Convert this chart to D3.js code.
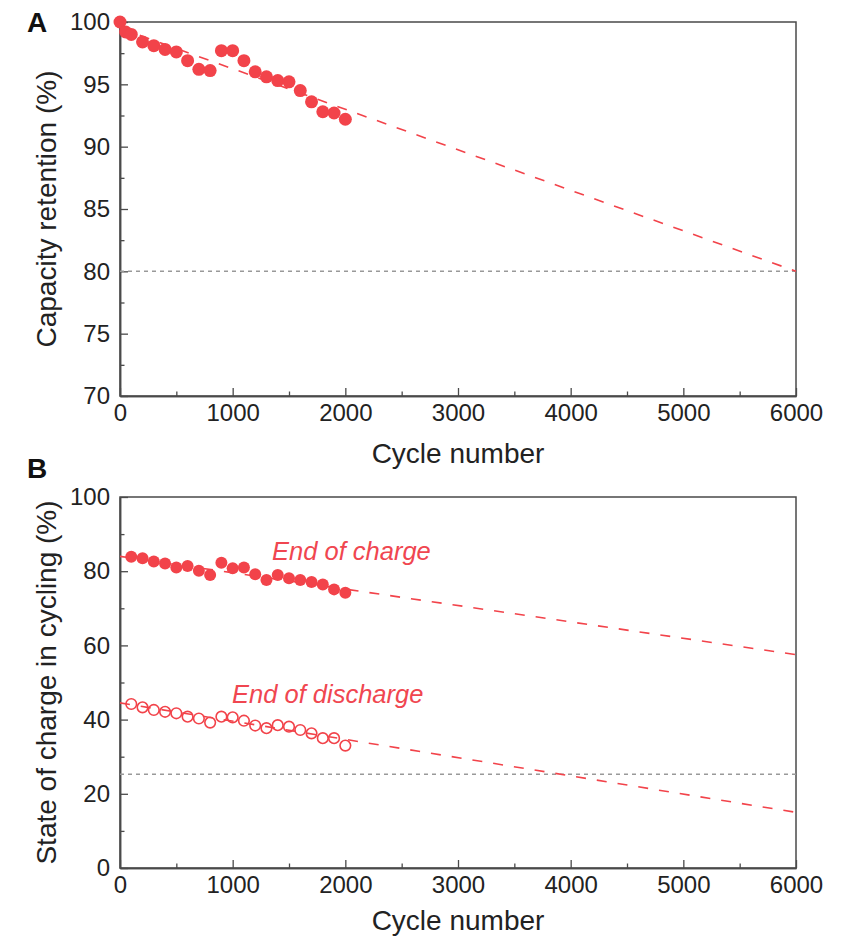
<!DOCTYPE html>
<html>
<head>
<meta charset="utf-8">
<script src="https://cdn.jsdelivr.net/npm/d3@7"></script>
<style>
  html, body { margin: 0; padding: 0; background: #fff; }
  svg text { font-family: "Liberation Sans", Arial, Helvetica, sans-serif; }
</style>
</head>
<body>
<svg id="chart" width="848" height="943"></svg>
<script>
// ---------- data ----------
const cyclesA = [0, 50, 100, 200, 300, 400, 500, 600, 700, 800, 900, 1000, 1100, 1200, 1300, 1400, 1500, 1600, 1700, 1800, 1900, 2000];
const retention = [100, 99.2, 99.0, 98.4, 98.1, 97.8, 97.6, 96.9, 96.2, 96.1, 97.7, 97.7, 96.9, 96.0, 95.6, 95.3, 95.2, 94.5, 93.6, 92.8, 92.7, 92.2];
const fitA = [[0, 99.5], [6000, 80]];
const thresholdA = 80;

const cyclesB = [100, 200, 300, 400, 500, 600, 700, 800, 900, 1000, 1100, 1200, 1300, 1400, 1500, 1600, 1700, 1800, 1900, 2000];
const chargeEnd = [83.9, 83.5, 82.6, 82.1, 81.0, 81.4, 80.1, 79.0, 82.3, 80.8, 81.0, 79.2, 77.6, 79.0, 78.1, 77.6, 77.1, 76.4, 75.1, 74.2];
const dischargeEnd = [44.2, 43.3, 42.6, 42.1, 41.7, 40.8, 40.3, 39.2, 40.8, 40.6, 39.7, 38.4, 37.7, 38.5, 38.1, 37.2, 36.3, 35.0, 35.0, 33.0];
const fitCharge = [[0, 84], [6000, 57.5]];
const fitDischarge = [[0, 44.5], [6000, 15]];
const thresholdB = 25.3;

const xTicks = [0, 1000, 2000, 3000, 4000, 5000, 6000];
const xMinor = [500, 1500, 2500, 3500, 4500, 5500];
const yTicksA = [70, 75, 80, 85, 90, 95, 100];
const yMinorA = [72.5, 77.5, 82.5, 87.5, 92.5, 97.5];
const yTicksB = [0, 20, 40, 60, 80, 100];
const yMinorB = [10, 30, 50, 70, 90];

// ---------- styles ----------
const RED = "#f2434a";
const AXIS = "#4a4a4a";
const svg = d3.select("#chart");
const fmt = d3.format("d");

const L = 120, R = 796;
const x = d3.scaleLinear().domain([0, 6000]).range([L, R]);
const yA = d3.scaleLinear().domain([70, 100]).range([396, 22]);
const yB = d3.scaleLinear().domain([0, 100]).range([868, 497]);

function drawPanel(y, yTicks, yMinor, top, bottom, letter, letterY, yTitle, xTitleY) {
  const g = svg.append("g");
  g.append("rect").attr("x", L).attr("y", top).attr("width", R - L).attr("height", bottom - top)
    .attr("fill", "none").attr("stroke", AXIS).attr("stroke-width", 1.5);

  const ax = g.append("g").attr("transform", `translate(0,${bottom})`)
    .call(d3.axisBottom(x).tickValues(xTicks).tickFormat(fmt).tickSize(-8).tickSizeOuter(0).tickPadding(8));
  const axm = g.append("g").attr("transform", `translate(0,${bottom})`)
    .call(d3.axisBottom(x).tickValues(xMinor).tickSize(-4.5).tickSizeOuter(0).tickFormat(""));
  const ay = g.append("g").attr("transform", `translate(${L},0)`)
    .call(d3.axisLeft(y).tickValues(yTicks).tickFormat(fmt).tickSize(-8).tickSizeOuter(0).tickPadding(10));
  const aym = g.append("g").attr("transform", `translate(${L},0)`)
    .call(d3.axisLeft(y).tickValues(yMinor).tickSize(-4.5).tickSizeOuter(0).tickFormat(""));
  [ax, axm, ay, aym].forEach(a => {
    a.select(".domain").attr("stroke", AXIS).attr("stroke-width", 1.5);
    a.selectAll(".tick line").attr("stroke", AXIS).attr("stroke-width", 1.3);
    a.selectAll(".tick text").attr("fill", "#222").style("font-size", "24px")
      .style("font-family", '"Liberation Sans", Arial, sans-serif');
  });

  g.append("text").attr("x", (L + R) / 2).attr("y", xTitleY).attr("text-anchor", "middle")
    .attr("fill", "#222").style("font-size", "28px").text("Cycle number");
  g.append("text").attr("transform", `translate(46,${(top + bottom) / 2}) rotate(-90)`)
    .attr("text-anchor", "middle").attr("dominant-baseline", "central")
    .attr("fill", "#222").style("font-size", "28px").text(yTitle);
  g.append("text").attr("x", 27).attr("y", letterY).attr("fill", "#111")
    .style("font-size", "28px").style("font-weight", "bold").text(letter);
  return g;
}

function dashedFit(g, y, pts) {
  g.append("path").datum(pts)
    .attr("d", d3.line().x(d => x(d[0])).y(d => y(d[1])))
    .attr("fill", "none").attr("stroke", RED).attr("stroke-width", 1.6)
    .attr("stroke-dasharray", "10,11");
}
function threshold(g, y, v) {
  g.append("line").attr("x1", L).attr("x2", R).attr("y1", y(v)).attr("y2", y(v))
    .attr("stroke", "#999").attr("stroke-width", 1.5).attr("stroke-dasharray", "4,4");
}

// ---------- Panel A ----------
const gA = drawPanel(yA, yTicksA, yMinorA, 22, 396, "A", 32, "Capacity retention (%)", 463);
threshold(gA, yA, thresholdA);
dashedFit(gA, yA, fitA);
gA.append("g").selectAll("circle").data(cyclesA.map((c, i) => [c, retention[i]])).join("circle")
  .attr("cx", d => x(d[0])).attr("cy", d => yA(d[1])).attr("r", 6.5).attr("fill", RED);

// ---------- Panel B ----------
const gB = drawPanel(yB, yTicksB, yMinorB, 497, 868, "B", 478, "State of charge in cycling (%)", 930);
threshold(gB, yB, thresholdB);
dashedFit(gB, yB, fitCharge);
dashedFit(gB, yB, fitDischarge);
gB.append("g").selectAll("circle").data(cyclesB.map((c, i) => [c, chargeEnd[i]])).join("circle")
  .attr("cx", d => x(d[0])).attr("cy", d => yB(d[1])).attr("r", 6).attr("fill", RED);
gB.append("g").selectAll("circle").data(cyclesB.map((c, i) => [c, dischargeEnd[i]])).join("circle")
  .attr("cx", d => x(d[0])).attr("cy", d => yB(d[1])).attr("r", 5.3)
  .attr("fill", "none").attr("stroke", RED).attr("stroke-width", 1.6);

gB.append("text").attr("x", 272).attr("y", 560).attr("fill", "#f04650")
  .style("font-size", "25.5px").style("font-style", "italic").text("End of charge");
gB.append("text").attr("x", 232).attr("y", 703).attr("fill", "#f04650")
  .style("font-size", "25.5px").style("font-style", "italic").text("End of discharge");
</script>
</body>
</html>
